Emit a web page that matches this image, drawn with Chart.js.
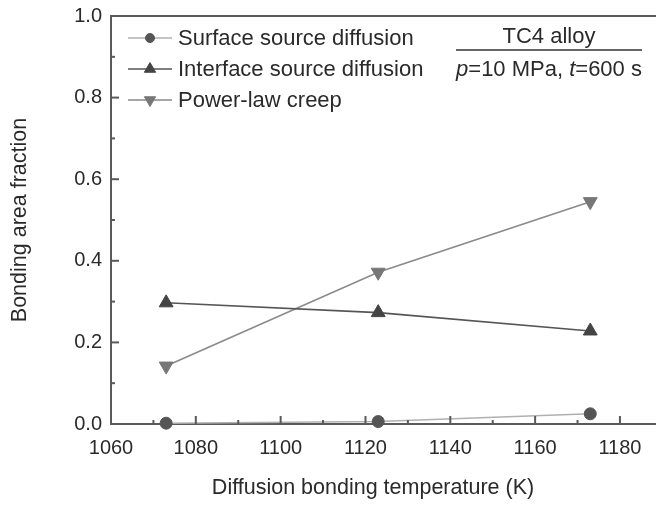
<!DOCTYPE html>
<html>
<head>
<meta charset="utf-8">
<script src="https://cdn.jsdelivr.net/npm/chart.js@4.4.1/dist/chart.umd.min.js"></script>
<style>
	html, body { margin: 0; padding: 0; background: #fff; }
	canvas { display: block; }
</style>
</head>
<body>
<canvas id="chartBonding" width="656" height="508"></canvas>
<script>
'use strict'

// data
const temperatures = [1073, 1123, 1173];
const surfaceSource = [0.002, 0.006, 0.025];
const interfaceSource = [0.297, 0.273, 0.228];
const powerLawCreep = [0.142, 0.372, 0.545];
const seriesLabels = ['Surface source diffusion', 'Interface source diffusion', 'Power-law creep'];
const xTickValues = [1060, 1080, 1100, 1120, 1140, 1160, 1180];
const yTickValues = [0, 0.2, 0.4, 0.6, 0.8, 1.0];
const xTitle = 'Diffusion bonding temperature (K)';

const fontFamily = '"Liberation Sans", Arial, Helvetica, sans-serif';
const axisColor = '#5a5a5a';
const textColor = '#2a2a2a';

const toPoints = (values) => values.map((v, i) => ({ x: temperatures[i], y: v }));

const datasets = [
	{
		label: seriesLabels[0],
		data: toPoints(surfaceSource),
		borderColor: '#b0b0b0',
		backgroundColor: '#555555',
		pointBorderColor: '#555555',
		pointStyle: 'circle',
		pointRadius: 6,
		pointRotation: 0,
	},
	{
		label: seriesLabels[1],
		data: toPoints(interfaceSource),
		borderColor: '#555555',
		backgroundColor: '#444444',
		pointBorderColor: '#444444',
		pointStyle: 'triangle',
		pointRadius: 8,
		pointRotation: 0,
	},
	{
		label: seriesLabels[2],
		data: toPoints(powerLawCreep),
		borderColor: '#8a8a8a',
		backgroundColor: '#777777',
		pointBorderColor: '#777777',
		pointStyle: 'triangle',
		pointRadius: 8,
		pointRotation: 180,
	},
];
datasets.forEach(ds => {
	ds.borderWidth = 1.6;
	ds.pointBackgroundColor = ds.backgroundColor;
	ds.pointBorderWidth = 1;
	ds.clip = false;
	ds.tension = 0;
});

// inward ticks, top frame line, x title, legend and the alloy note
const decorations = {
	id: 'decorations',
	afterDraw(chart) {
		const { ctx, chartArea: { top, bottom, left, right } } = chart;
		const xs = chart.scales.x;
		const ys = chart.scales.y;
		ctx.save();
		ctx.strokeStyle = axisColor;
		ctx.lineWidth = 2;

		// top frame
		ctx.beginPath();
		ctx.moveTo(left, top);
		ctx.lineTo(right, top);
		ctx.stroke();

		// x ticks (every 10 K, major every 20 K)
		for (let v = xTickValues[0]; v <= xTickValues[xTickValues.length - 1]; v += 10) {
			const px = xs.getPixelForValue(v);
			const len = xTickValues.includes(v) ? 8 : 4;
			ctx.beginPath();
			ctx.moveTo(px, bottom);
			ctx.lineTo(px, bottom - len);
			ctx.stroke();
		}
		// y ticks (every 0.1, major every 0.2)
		for (let k = 0; k <= 10; k++) {
			const py = ys.getPixelForValue(k / 10);
			const len = k % 2 === 0 ? 8 : 4;
			ctx.beginPath();
			ctx.moveTo(left, py);
			ctx.lineTo(left + len, py);
			ctx.stroke();
		}

		// x axis title
		ctx.fillStyle = textColor;
		ctx.font = '21.5px ' + fontFamily;
		ctx.textAlign = 'center';
		ctx.textBaseline = 'middle';
		ctx.fillText(xTitle, 373, 488);

		// legend
		const rows = [38, 69, 100];
		chart.data.datasets.forEach((ds, i) => {
			const y = rows[i];
			ctx.strokeStyle = ds.borderColor;
			ctx.lineWidth = ds.borderWidth;
			ctx.beginPath();
			ctx.moveTo(128, y);
			ctx.lineTo(172, y);
			ctx.stroke();
			ctx.fillStyle = ds.pointBackgroundColor;
			ctx.strokeStyle = ds.pointBorderColor;
			ctx.lineWidth = 1;
			Chart.helpers.drawPoint(ctx, {
				pointStyle: ds.pointStyle,
				rotation: ds.pointRotation,
				radius: ds.pointRadius - 1.5,
				borderWidth: 1,
			}, 150, y);
			ctx.fillStyle = textColor;
			ctx.font = '22px ' + fontFamily;
			ctx.textAlign = 'left';
			ctx.textBaseline = 'middle';
			ctx.fillText(ds.label, 178, y + 1);
		});

		// alloy note
		const noteX = 549;
		ctx.fillStyle = textColor;
		ctx.font = '22px ' + fontFamily;
		ctx.textAlign = 'center';
		ctx.textBaseline = 'middle';
		ctx.fillText('TC4 alloy', noteX, 37);
		ctx.strokeStyle = '#333';
		ctx.lineWidth = 1.5;
		ctx.beginPath();
		ctx.moveTo(456, 50);
		ctx.lineTo(642, 50);
		ctx.stroke();

		const parts = [
			['p', true], ['=10 MPa, ', false], ['t', true], ['=600 s', false],
		];
		let total = 0;
		parts.forEach(p => {
			ctx.font = (p[1] ? 'italic ' : '') + '22px ' + fontFamily;
			total += ctx.measureText(p[0]).width;
		});
		let cx = noteX - total / 2;
		ctx.textAlign = 'left';
		parts.forEach(p => {
			ctx.font = (p[1] ? 'italic ' : '') + '22px ' + fontFamily;
			ctx.fillText(p[0], cx, 70);
			cx += ctx.measureText(p[0]).width;
		});
		ctx.restore();
	},
};

let chartBonding = new Chart(document.getElementById('chartBonding'), {
	type: 'line',
	data: { datasets: datasets },
	options: {
		responsive: false,
		animation: false,
		events: [],
		layout: { autoPadding: false, padding: { top: 16, right: 0, left: 0, bottom: 0 } },
		plugins: {
			legend: { display: false },
			tooltip: { enabled: false },
		},
		scales: {
			x: {
				type: 'linear',
				min: 1060,
				max: 1188.5,
				afterFit(scale) {
					scale.height = 84;
					scale.paddingLeft = 0;
					scale.paddingRight = 0;
				},
				afterBuildTicks(scale) { scale.ticks = xTickValues.map(v => ({ value: v })); },
				grid: { display: false, drawTicks: false },
				border: { display: true, color: axisColor, width: 2 },
				ticks: {
					color: textColor,
					padding: 12,
					maxRotation: 0,
					autoSkip: false,
					callback: (v) => String(v),
					font: { family: fontFamily, size: 20 },
				},
				title: { display: false },
			},
			y: {
				min: 0,
				max: 1.0,
				afterFit(scale) {
					scale.width = 111;
					scale.paddingTop = 0;
					scale.paddingBottom = 0;
				},
				afterBuildTicks(scale) { scale.ticks = yTickValues.map(v => ({ value: v })); },
				grid: { display: false, drawTicks: false },
				border: { display: true, color: axisColor, width: 2 },
				ticks: {
					color: textColor,
					padding: 9,
					callback: (v) => Number(v).toFixed(1),
					font: { family: fontFamily, size: 20 },
				},
				title: {
					display: true,
					text: 'Bonding area fraction',
					color: textColor,
					font: { family: fontFamily, size: 21.5 },
					padding: { top: 7, bottom: 0 },
				},
			},
		},
	},
	plugins: [decorations],
});
</script>
</body>
</html>
